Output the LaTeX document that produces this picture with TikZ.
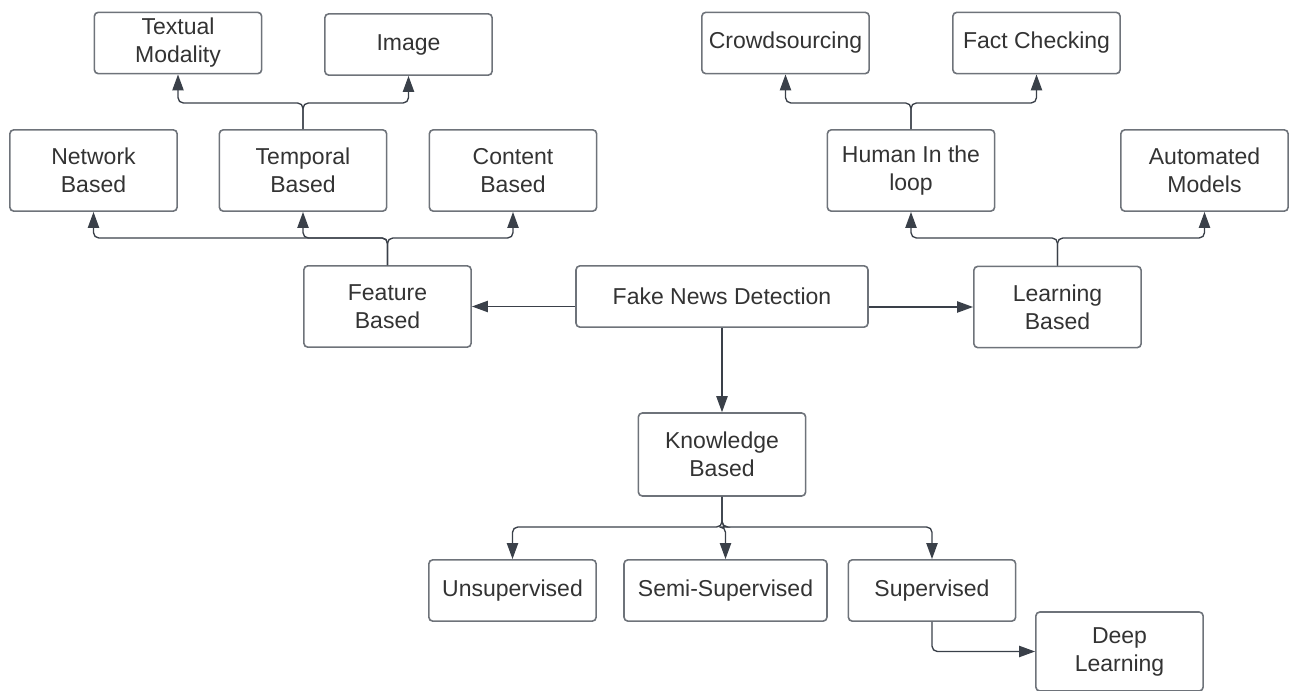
\documentclass[tikz,border=0pt]{standalone}
\usepackage{fontspec}
\setmainfont{Liberation Sans}
\usetikzlibrary{arrows.meta}
\definecolor{edge}{HTML}{3A4049}
\definecolor{frame}{HTML}{6E737A}
\definecolor{ink}{HTML}{333333}
\begin{document}
\begin{tikzpicture}[x=0.75pt,y=-0.75pt,
  box/.style={draw=frame, line width=1.2pt, rounded corners=3pt, align=center,
    text=ink, font=\fontsize{17.25}{21}\selectfont, inner sep=0pt,
    minimum width=125.5pt, minimum height=46pt},
  tall/.style={minimum height=61pt},
  link/.style={draw=edge, line width=1pt, rounded corners=4pt,
    -{Triangle[length=12pt,width=8.5pt]}}]
\useasboundingbox (0,0) rectangle (1296,691);

% root
\node[box, minimum width=219pt] (fnd) at (722,296.5) {Fake News Detection};

% feature based branch
\node[box, tall] (fb) at (387.5,306.5) {Feature\\Based};
\node[box, tall] (nb) at (93.5,170.5) {Network\\Based};
\node[box, tall] (tb) at (303,170.5) {Temporal\\Based};
\node[box, tall] (cb) at (513,170.5) {Content\\Based};
\node[box] (tm) at (178,43) {Textual\\Modality};
\node[box] (img) at (408.5,44.5) {Image};

% learning based branch
\node[box, tall] (lb) at (1057.5,307) {Learning\\Based};
\node[box, tall] (hl) at (911,170.5) {Human In the\\loop};
\node[box, tall] (am) at (1204.5,170.5) {Automated\\Models};
\node[box] (cs) at (785.5,43) {Crowdsourcing};
\node[box] (fc) at (1036.5,43) {Fact Checking};

% knowledge based branch
\node[box, minimum height=62.25pt] (kb) at (722,454.5) {Knowledge\\Based};
\node[box] (un) at (512.5,590.5) {Unsupervised};
\node[box, minimum width=152.25pt] (ss) at (725.5,590.5) {Semi-Supervised};
\node[box] (sv) at (932,590.5) {Supervised};
\node[box, minimum height=59.25pt] (dl) at (1119.5,651.5) {Deep\\Learning};

% fork points
\coordinate (jt) at (303,103);
\coordinate (jf) at (387.5,238);
\coordinate (jh) at (911,103);
\coordinate (jl) at (1057.5,238);
\coordinate (jk) at (722,527);

% connectors from the root
\draw[link] (fnd.west |- fb.east) -- (fb.east);
\draw[link] (fnd.east |- lb.west) -- (lb.west);
\draw[link] (fnd.south) -- (kb.north);

% feature based
\draw[link] (fb.north) -- (jf) -| (nb.south);
\draw[link] (fb.north) -- (jf) -| (tb.south);
\draw[link] (fb.north) -- (jf) -| (cb.south);
\draw[link] (tb.north) -- (jt) -| (tm.south);
\draw[link] (tb.north) -- (jt) -| (img.south);

% learning based
\draw[link] (lb.north) -- (jl) -| (hl.south);
\draw[link] (lb.north) -- (jl) -| (am.south);
\draw[link] (hl.north) -- (jh) -| (cs.south);
\draw[link] (hl.north) -- (jh) -| (fc.south);

% knowledge based
\draw[link] (kb.south) -- (jk) -| (un.north);
\draw[link] (kb.south) -- (jk) -| (ss.north);
\draw[link] (kb.south) -- (jk) -| (sv.north);
\draw[link] (sv.south) |- (dl.west);
\end{tikzpicture}
\end{document}
